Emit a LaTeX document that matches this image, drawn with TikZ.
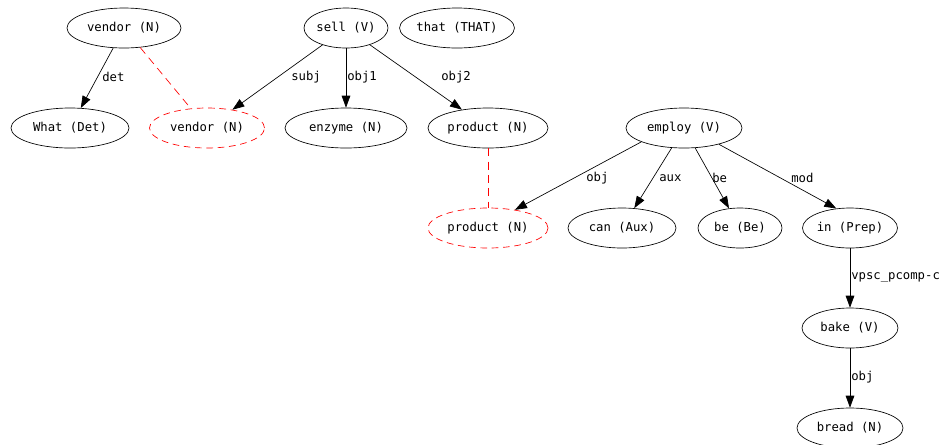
\documentclass[tikz,border=0pt]{standalone}
\usepackage{fontspec}
\setmonofont{DejaVu Sans Mono}
\usetikzlibrary{shapes.geometric,arrows.meta}
\begin{document}
\begin{tikzpicture}[x=0.75pt, y=-0.75pt,
    word/.style={ellipse, draw, line width=0.5pt, minimum height=30pt, inner sep=0pt, font=\ttfamily\fontsize{9.2}{10}\selectfont},
    wd/.style={minimum width=#1*0.75pt},
    copy/.style={word, draw=red, dashed, dash pattern=on 5pt off 3.5pt},
    dep/.style={-{Triangle[length=9pt,width=6.5pt]}, line width=0.5pt},
    link/.style={red, dash pattern=on 6pt off 4pt, line width=0.5pt},
    lbl/.style={anchor=west, inner sep=0pt, font=\ttfamily\fontsize{9.2}{10}\selectfont}]
    \path[use as bounding box, clip] (0,0) rectangle (940,444);

    % first row
    \node[word, wd=114](vendor) at (124, 28) {vendor (N)};
    \node[word, wd=84](sell) at (346, 28) {sell (V)};
    \node[word, wd=96](that) at (457, 28) {that (THAT)};

    % second row
    \node[word, wd=118](what) at (70, 128) {What (Det)};
    \node[copy, wd=115](vendor_c) at (207, 128) {vendor (N)};
    \node[word, wd=122](enzyme) at (346, 128) {enzyme (N)};
    \node[word, wd=120](product) at (488, 128) {product (N)};
    \node[word, wd=116](employ) at (684, 128) {employ (V)};

    % third row
    \node[copy, wd=120](product_c) at (488, 228) {product (N)};
    \node[word, wd=108](can) at (622, 228) {can (Aux)};
    \node[word, wd=84](be) at (740, 228) {be (Be)};
    \node[word, wd=95](in) at (850, 228) {in (Prep)};

    \node[word, wd=96](bake) at (850, 328) {bake (V)};
    \node[word, wd=106](bread) at (850, 428) {bread (N)};

    \draw[dep] (vendor) -- (what);
    \draw[dep] (sell) -- (vendor_c);
    \draw[dep] (sell) -- (enzyme);
    \draw[dep] (sell) -- (product);
    \draw[dep] (employ.198) -- (product_c.34);
    \draw[dep] (employ) -- (can);
    \draw[dep] (employ) -- (be);
    \draw[dep] (employ.-25) -- (in.125);
    \draw[dep] (in) -- (bake);
    \draw[dep] (bake) -- (bread);

    % links to the copies
    \draw[link] (vendor) -- (vendor_c);
    \draw[link] (product) -- (product_c);

    % edge labels
    \node[lbl](l_det) at (102, 77) {det};
    \node[lbl](l_subj) at (291, 77) {subj};
    \node[lbl](l_obj1) at (347, 77) {obj1};
    \node[lbl](l_obj2) at (441, 77) {obj2};
    \node[lbl](l_obj) at (586, 178) {obj};
    \node[lbl](l_aux) at (659, 178) {aux};
    \node[lbl](l_be) at (712, 178) {be};
    \node[lbl](l_mod) at (791, 178) {mod};
    \node[lbl](l_vpsc) at (851, 278) {vpsc\_pcomp-c};
    \node[lbl](l_obj_b) at (851, 377) {obj};
\end{tikzpicture}
\end{document}
